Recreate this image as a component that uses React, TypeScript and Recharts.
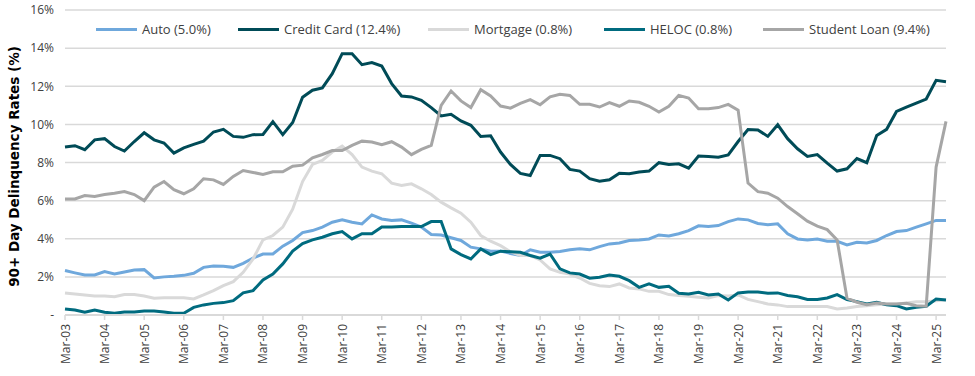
import { CartesianGrid, Line, LineChart, XAxis, YAxis } from "recharts";

// quarter-end labels, Mar-03 .. Jun-25
const months = ["Mar", "Jun", "Sep", "Dec"];
const quarters: string[] = [];
for (let y = 3; y <= 25; y++) {
  for (const m of months) {
    if (y === 25 && m === "Sep") break;
    quarters.push(`${m}-${String(y).padStart(2, "0")}`);
  }
}

const auto = [
  2.33, 2.21, 2.1, 2.1, 2.28, 2.15, 2.26, 2.36, 2.38, 1.94,
  2.0, 2.03, 2.08, 2.19, 2.5, 2.57, 2.56, 2.5, 2.71, 2.99,
  3.2, 3.2, 3.61, 3.91, 4.32, 4.43, 4.61, 4.87, 4.99, 4.87,
  4.78, 5.25, 5.04, 4.96, 4.99, 4.82, 4.61, 4.22, 4.2, 4.05,
  3.91, 3.56, 3.47, 3.35, 3.35, 3.23, 3.12, 3.42, 3.29, 3.29,
  3.33, 3.42, 3.47, 3.42, 3.59, 3.73, 3.78, 3.91, 3.94, 3.99,
  4.2, 4.15, 4.26, 4.43, 4.68, 4.64, 4.69, 4.9, 5.04, 4.99,
  4.8, 4.73, 4.78, 4.26, 3.99, 3.94, 3.99, 3.87, 3.87, 3.68,
  3.82, 3.78, 3.91, 4.17, 4.38, 4.43, 4.61, 4.78, 4.96, 4.96,
];

const creditCard = [
  8.81, 8.88, 8.67, 9.19, 9.25, 8.84, 8.6, 9.1, 9.56, 9.19,
  9.02, 8.49, 8.77, 8.95, 9.12, 9.6, 9.74, 9.37, 9.32, 9.46,
  9.47, 10.14, 9.46, 10.1, 11.42, 11.79, 11.91, 12.66, 13.71, 13.71,
  13.13, 13.24, 13.06, 12.14, 11.49, 11.44, 11.26, 10.88, 10.44, 10.53,
  10.18, 9.95, 9.37, 9.4, 8.55, 7.9, 7.43, 7.32, 8.37, 8.37,
  8.2, 7.64, 7.55, 7.15, 7.02, 7.09, 7.44, 7.41, 7.5, 7.55,
  7.99, 7.9, 7.93, 7.7, 8.34, 8.32, 8.28, 8.4, 9.1, 9.73,
  9.71, 9.37, 9.98, 9.25, 8.72, 8.32, 8.42, 7.97, 7.55, 7.67,
  8.21, 7.99, 9.42, 9.74, 10.68, 10.91, 11.12, 11.33, 12.31, 12.24,
];

const mortgage = [
  1.16, 1.1, 1.05, 1.0, 1.0, 0.96, 1.07, 1.07, 1.0, 0.88,
  0.91, 0.91, 0.91, 0.84, 1.05, 1.28, 1.54, 1.75, 2.24, 2.94,
  3.94, 4.17, 4.61, 5.55, 7.0, 7.9, 8.11, 8.55, 8.86, 8.42,
  7.76, 7.55, 7.41, 6.92, 6.8, 6.88, 6.62, 6.32, 5.92, 5.62,
  5.34, 4.87, 4.17, 3.87, 3.64, 3.32, 3.12, 3.12, 2.89, 2.42,
  2.24, 2.15, 1.94, 1.66, 1.54, 1.49, 1.63, 1.42, 1.37, 1.24,
  1.24, 1.07, 1.02, 0.98, 0.93, 0.89, 1.02, 1.0, 1.05, 0.82,
  0.7, 0.58, 0.53, 0.44, 0.44, 0.44, 0.44, 0.44, 0.32, 0.37,
  0.44, 0.49, 0.54, 0.58, 0.58, 0.63, 0.7, 0.7, 0.75, 0.8,
];

const heloc = [
  0.32, 0.26, 0.14, 0.26, 0.14, 0.09, 0.16, 0.16, 0.21, 0.21,
  0.16, 0.09, 0.09, 0.4, 0.53, 0.61, 0.65, 0.75, 1.16, 1.28,
  1.84, 2.15, 2.68, 3.35, 3.75, 3.94, 4.08, 4.26, 4.38, 3.99,
  4.26, 4.26, 4.61, 4.61, 4.64, 4.64, 4.64, 4.9, 4.9, 3.47,
  3.17, 2.94, 3.47, 3.17, 3.35, 3.32, 3.29, 3.12, 2.98, 3.2,
  2.42, 2.21, 2.15, 1.93, 1.98, 2.1, 2.03, 1.8, 1.45, 1.63,
  1.45, 1.51, 1.14, 1.1, 1.19, 1.05, 1.1, 0.79, 1.16, 1.21,
  1.21, 1.14, 1.16, 1.02, 0.96, 0.81, 0.81, 0.89, 1.07, 0.81,
  0.7, 0.58, 0.67, 0.54, 0.49, 0.32, 0.4, 0.46, 0.84, 0.79,
];

const studentLoan = [
  6.09, 6.09, 6.27, 6.22, 6.32, 6.39, 6.48, 6.32, 6.0, 6.71,
  7.0, 6.57, 6.36, 6.62, 7.15, 7.09, 6.85, 7.27, 7.58, 7.48,
  7.37, 7.51, 7.51, 7.8, 7.86, 8.25, 8.42, 8.63, 8.63, 8.9,
  9.12, 9.07, 8.93, 9.09, 8.81, 8.41, 8.69, 8.9, 11.0, 11.75,
  11.23, 10.88, 11.82, 11.49, 10.96, 10.85, 11.1, 11.3, 11.03, 11.44,
  11.58, 11.52, 11.05, 11.05, 10.91, 11.14, 10.95, 11.23, 11.16, 10.95,
  10.65, 10.95, 11.52, 11.38, 10.82, 10.82, 10.88, 11.05, 10.74, 6.92,
  6.47, 6.39, 6.13, 5.69, 5.31, 4.92, 4.66, 4.48, 3.94, 0.88,
  0.67, 0.54, 0.63, 0.58, 0.58, 0.61, 0.49, 0.46, 7.76, 10.16,
];

const yTicks = [0, 2, 4, 6, 8, 10, 12, 14, 16];

const series = [
  { key: "auto", name: "Auto (5.0%)", color: "#6FA8DC", legendX: 96 },
  { key: "creditCard", name: "Credit Card (12.4%)", color: "#004B57", legendX: 238 },
  { key: "mortgage", name: "Mortgage (0.8%)", color: "#D9D9D9", legendX: 428 },
  { key: "heloc", name: "HELOC (0.8%)", color: "#006B7F", legendX: 604 },
  { key: "studentLoan", name: "Student Loan (9.4%)", color: "#A6A6A6", legendX: 763 },
];

const data = quarters.map((q, i) => ({
  quarter: q,
  auto: auto[i],
  creditCard: creditCard[i],
  mortgage: mortgage[i],
  heloc: heloc[i],
  studentLoan: studentLoan[i],
}));

const FONT = "'Open Sans', sans-serif";

const XTick = (props: any) => {
  const { x, y, payload } = props;
  return (
    <g transform={`translate(${x},${y + 2})`}>
      <text
        transform="rotate(-90)"
        textAnchor="end"
        dominantBaseline="central"
        fontSize={12}
        fontFamily={FONT}
        fill="#404040"
      >
        {payload.value}
      </text>
    </g>
  );
};

const App = () => {
  return (
    <div style={{ position: "absolute", left: 0, top: 0, width: 975, height: 376, background: "#fff" }}>
      <LineChart
        width={975}
        height={376}
        data={data}
        margin={{ top: 10, right: 29, bottom: 0, left: 0 }}
      >
        <CartesianGrid vertical={false} stroke="#D9D9D9" strokeWidth={1.5} />
        <XAxis
          dataKey="quarter"
          interval={3}
          height={61}
          axisLine={{ stroke: "#D9D9D9", strokeWidth: 2 }}
          tickLine={{ stroke: "#D9D9D9", strokeWidth: 1.5 }}
          tickSize={5}
          tick={<XTick />}
        />
        <YAxis
          width={65}
          domain={[0, 16]}
          ticks={yTicks}
          axisLine={false}
          tickLine={false}
          tickMargin={5}
          tickFormatter={(v: number) => (v === 0 ? "-" : `${v}%`)}
          tick={{ fontSize: 12, fontFamily: FONT, fill: "#404040" }}
          label={{
            value: "90+ Day Delinquency Rates (%)",
            angle: -90,
            position: "insideLeft",
            dx: 9,
            dy: 4,
            style: { fontSize: 13.5, fontWeight: 700, fontFamily: "'DejaVu Sans', sans-serif", fill: "#000", textAnchor: "middle" },
          }}
        />
        {series.map((s) => (
          <Line
            key={s.key}
            type="linear"
            dataKey={s.key}
            name={s.name}
            stroke={s.color}
            strokeWidth={3}
            dot={false}
            isAnimationActive={false}
          />
        ))}
      </LineChart>
      {series.map((s) => (
        <div
          key={s.key}
          style={{
            position: "absolute",
            left: s.legendX,
            top: 20,
            display: "flex",
            alignItems: "center",
            fontFamily: FONT,
            fontSize: 13,
            color: "#404040",
            whiteSpace: "nowrap",
          }}
        >
          <span style={{ display: "inline-block", width: 41, height: 3, background: s.color, marginRight: 5 }} />
          {s.name}
        </div>
      ))}
    </div>
  );
};

export default App;
